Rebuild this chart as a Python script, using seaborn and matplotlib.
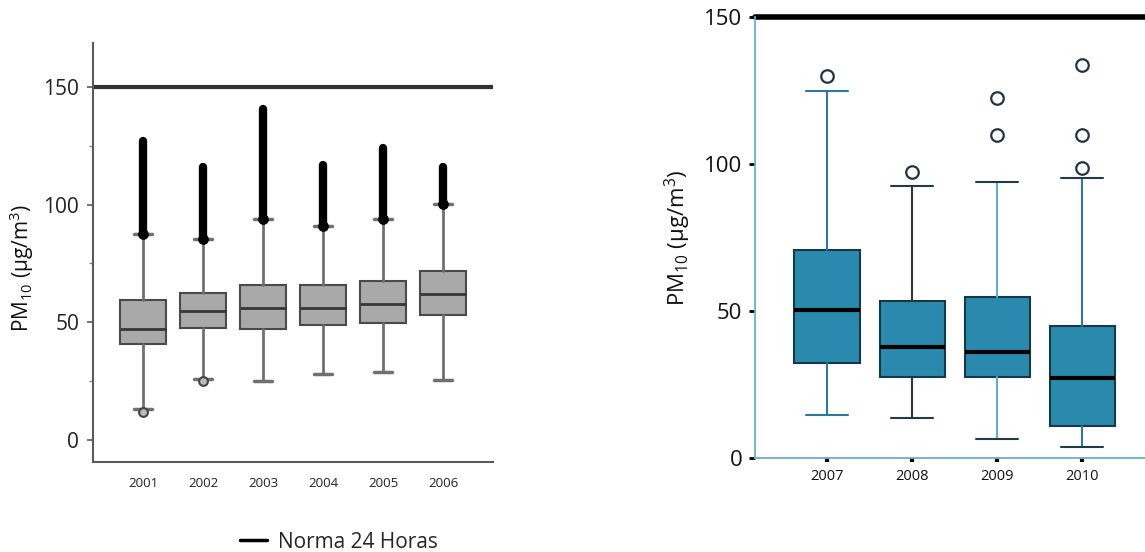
import numpy as np
import pandas as pd
import seaborn as sns
import matplotlib.pyplot as plt
from matplotlib.lines import Line2D
from matplotlib.ticker import MultipleLocator

sns.set_theme(style='ticks')
plt.rcParams['font.family'] = ['Open Sans', 'DejaVu Sans']
plt.rcParams['mathtext.fontset'] = 'custom'
plt.rcParams['mathtext.rm'] = 'Open Sans'
plt.rcParams['mathtext.it'] = 'Open Sans:italic'

# %% data (PM10 summary per year)
years_a = ['2001', '2002', '2003', '2004', '2005', '2006']
q1_a = [41.0, 47.5, 47.0, 48.7, 49.7, 53.0]
med_a = [47.3, 55.0, 56.2, 56.2, 57.6, 61.9]
q3_a = [59.3, 62.6, 66.0, 66.0, 67.4, 71.6]
whislo_a = [13.0, 26.0, 25.0, 28.0, 29.0, 25.5]
whishi_a = [87.6, 85.5, 94.0, 91.0, 94.0, 100.3]
out_max_a = [127.0, 115.8, 140.6, 117.0, 124.0, 116.0]
out_low_a = [12.0, 25.2, np.nan, np.nan, np.nan, np.nan]

years_b = ['2007', '2008', '2009', '2010']
q1_b = [32.2, 27.6, 27.6, 10.9]
med_b = [50.3, 37.6, 36.1, 27.2]
q3_b = [70.6, 53.5, 54.9, 45.0]
whislo_b = [14.5, 13.5, 6.6, 3.8]
whishi_b = [124.8, 92.4, 93.9, 95.4]
fliers_b = [[130.0], [97.3], [122.3, 109.8], [133.6, 109.8, 98.6]]

norma = 150

# %%
fig = plt.figure(figsize=(11.45, 5.52), dpi=100)
ax1 = fig.add_axes([93 / 1145, 1 - 462 / 552, 400 / 1145, 419 / 552])
ax2 = fig.add_axes([755 / 1145, 1 - 458 / 552, 390 / 1145, 441 / 552])

label = r'PM$_{\mathrm{10}}$ (µg/m$^{\mathrm{3}}$)'

# left panel
stats_a = [dict(med=m, q1=a, q3=b, whislo=lo, whishi=hi, fliers=[], label=y)
           for y, a, m, b, lo, hi in zip(years_a, q1_a, med_a, q3_a, whislo_a, whishi_a)]
pos_a = np.arange(len(years_a))
ax1.bxp(stats_a, positions=pos_a, widths=0.78, patch_artist=True, showfliers=False,
        capwidths=0.3,
        boxprops=dict(facecolor='#a9a9a9', edgecolor='#4a4a4a', linewidth=1.5),
        medianprops=dict(color='#363636', linewidth=2),
        whiskerprops=dict(color='#707070', linewidth=2),
        capprops=dict(color='#707070', linewidth=2.5))
lc = ax1.vlines(pos_a, whishi_a, out_max_a, color='black', linewidth=6)
lc.set_capstyle('round')
ax1.scatter(pos_a, whishi_a, marker='o', s=45, color='black', zorder=3)
ax1.scatter(pos_a, out_low_a, marker='o', s=40, facecolor='#bbbbbb',
            edgecolor='#444444', linewidth=1.5, zorder=3)
ax1.axhline(norma, color='#333333', linewidth=3)
ax1.set_xlim(-0.833, 5.833)
ax1.set_ylim(-9.3, 168.6)
ax1.set_yticks([0, 50, 100, 150])
ax1.yaxis.set_minor_locator(MultipleLocator(25))
ax1.set_xticks(pos_a, years_a)
for s in ['top', 'right']:
    ax1.spines[s].set_visible(False)
for s in ['left', 'bottom']:
    ax1.spines[s].set_color('#5a5a5a')
    ax1.spines[s].set_linewidth(1.5)
ax1.tick_params(axis='y', which='major', length=4, width=1.2, color='#5a5a5a',
                pad=6, labelsize=15, labelcolor='#222222')
ax1.tick_params(axis='y', which='minor', length=3, width=1, color='#888888')
ax1.tick_params(axis='x', length=0, pad=11, labelsize=9.5, labelcolor='#222222')
ax1.set_ylabel(label, fontsize=15, color='#111111')
ax1.yaxis.set_label_coords(-0.143, 0.463)

fig.legend(handles=[Line2D([], [], color='black', linewidth=2.5)],
           labels=['Norma 24 Horas'], loc='center', bbox_to_anchor=(0.296, 0.018),
           frameon=False, handlelength=1.3, fontsize=15, handletextpad=0.5)

# right panel
stats_b = [dict(med=m, q1=a, q3=b, whislo=lo, whishi=hi, fliers=f, label=y)
           for y, a, m, b, lo, hi, f in zip(years_b, q1_b, med_b, q3_b, whislo_b, whishi_b, fliers_b)]
pos_b = np.arange(len(years_b))
bp = ax2.bxp(stats_b, positions=pos_b, widths=0.765, patch_artist=True, capwidths=0.5,
             boxprops=dict(facecolor='#2a8aad', edgecolor='#173846', linewidth=1.5),
             medianprops=dict(color='black', linewidth=3),
             whiskerprops=dict(color='#2b7a9a', linewidth=1.5),
             capprops=dict(color='#1f3b48', linewidth=1.5),
             flierprops=dict(marker='o', markersize=9, markerfacecolor='white',
                             markeredgecolor='#1f3442', markeredgewidth=1.6))
whisk_cols = ['#2b7a9a', '#333333', '#5aaed0', '#2b7a9a']
for i, c in enumerate(whisk_cols):
    bp['whiskers'][2 * i].set_color(c)
    bp['whiskers'][2 * i + 1].set_color(c)
bp['caps'][0].set_color('#2b7a9a')
bp['caps'][1].set_color('#2b7a9a')
ax2.axhline(norma, color='black', linewidth=4, clip_on=False)
ax2.set_xlim(-0.847, 3.74)
ax2.set_ylim(0, 150)
ax2.set_yticks([0, 50, 100, 150])
ax2.set_xticks(pos_b, years_b)
for s in ['top', 'right']:
    ax2.spines[s].set_visible(False)
for s in ['left', 'bottom']:
    ax2.spines[s].set_color('#6ab0cc')
    ax2.spines[s].set_linewidth(1.3)
ax2.tick_params(axis='y', length=4, width=2, color='black', pad=5, labelsize=16,
                labelcolor='#111111')
ax2.tick_params(axis='x', length=3, width=3, color='black', pad=5, labelsize=10.5,
                labelcolor='#111111')
ax2.set_ylabel(label, fontsize=16, color='#111111')
ax2.yaxis.set_label_coords(-0.159, 0.499)

fig.savefig('out.png', dpi=100)
